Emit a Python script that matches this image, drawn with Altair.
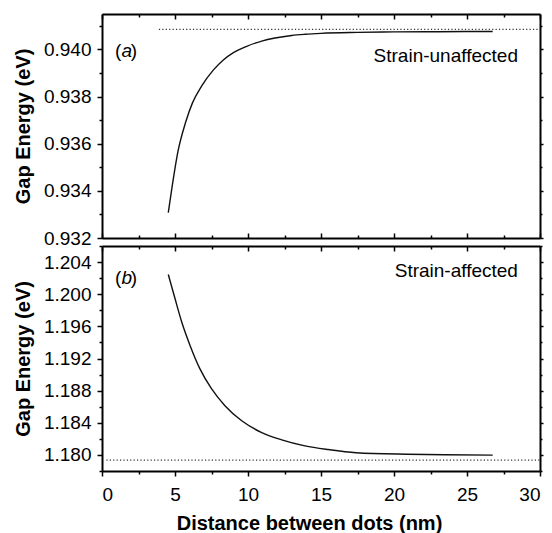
import altair as alt
import pandas as pd

# ---------------- data ----------------
dist_a = [4.54, 4.82, 5.18, 5.75, 6.19, 6.83, 7.62, 8.31, 9.0, 9.91, 10.94, 11.85, 12.99, 13.9,
          15.0, 17.5, 20.0, 23.0, 26.76]
gap_a = [0.93308, 0.93425, 0.93560, 0.93695, 0.93772, 0.93845, 0.93912, 0.93955, 0.93986, 0.94013,
         0.94035, 0.94048, 0.94059, 0.94064, 0.94068, 0.94072, 0.94074, 0.94075, 0.94076]

dist_b = [4.54, 5.0, 5.46, 6.03, 6.71, 7.51, 8.42, 9.57, 10.94, 12.31, 13.9, 15.5, 17.4, 20.9, 23.5, 26.76]
gap_b = [1.20246, 1.19946, 1.19654, 1.19363, 1.19071, 1.18821, 1.18613, 1.18425, 1.18279, 1.18188,
         1.18113, 1.18067, 1.18028, 1.18009, 1.18002, 1.17998]

ref_a_y = 0.94085
ref_a_x = [3.9, 30]
ref_b_y = 1.17935
ref_b_x = [0.3, 30]

x_domain = [0, 30]
x_major = [0, 5, 10, 15, 20, 25, 30]
x_minor = [2.5, 7.5, 12.5, 17.5, 22.5, 27.5]

ya_domain = [0.932, 0.9415]
ya_major = [0.932, 0.934, 0.936, 0.938, 0.940]
ya_minor = [0.933, 0.935, 0.937, 0.939, 0.941]

yb_domain = [1.178, 1.206]
yb_major = [1.180, 1.184, 1.188, 1.192, 1.196, 1.200, 1.204]
yb_minor = [1.178, 1.182, 1.186, 1.190, 1.194, 1.198, 1.202, 1.206]

notes = ["Strain-unaffected", "Strain-affected"]
note_x = 28.49
note_y = [0.9397, 1.20288]
tags = ["a", "b"]
tag_y = [0.93991, 1.2020]
paren_x = [0.89, 1.97]
tag_x = 1.34

W = 438
H_A = 224
H_B = 225
FONT = "Liberation Sans"


def panel(dist, gap, ref_x, ref_y, ydom, ymaj, ymin, tag, t_y, note, n_y, H, is_bottom):
    xs = alt.Scale(domain=x_domain, nice=False, zero=False)
    ys = alt.Scale(domain=ydom, nice=False, zero=False)

    curve_df = pd.DataFrame({"x": dist, "y": gap})
    ref_df = pd.DataFrame({"x": [ref_x[0]], "x2": [ref_x[1]], "y": [ref_y]})
    note_df = pd.DataFrame({"x": [note_x], "y": [n_y], "t": [note]})
    paren_df = pd.DataFrame({"x": paren_x, "y": [t_y, t_y], "t": ["(", ")"]})
    tag_df = pd.DataFrame({"x": [tag_x], "y": [t_y], "t": [tag]})

    if is_bottom:
        x_ax_major = alt.Axis(
            orient="bottom", values=x_major, tickSize=5, labels=True, format="d",
            title="Distance between dots (nm)", domain=True, labelPadding=9,
            titlePadding=9, titleX=207,
        )
        x_ax_minor = alt.Axis(orient="bottom", values=x_minor, tickSize=3, labels=False,
                              title=None, domain=False)
    else:
        x_ax_major = alt.Axis(orient="top", offset=-H, values=x_major, tickSize=5, labels=False,
                              title=None, domain=True)
        x_ax_minor = alt.Axis(orient="top", offset=-H, values=x_minor, tickSize=3, labels=False,
                              title=None, domain=False)
    top_major = alt.Axis(orient="bottom", offset=-H, values=x_major, tickSize=5, labels=False,
                         title=None, domain=True)
    top_minor = alt.Axis(orient="bottom", offset=-H, values=x_minor, tickSize=3, labels=False,
                         title=None, domain=False)

    y_left_major = alt.Axis(orient="left", values=ymaj, tickSize=5, labels=True, format=".3f",
                            title="Gap Energy (eV)", domain=True, labelPadding=6, titlePadding=10)
    y_left_minor = alt.Axis(orient="left", values=ymin, tickSize=3, labels=False, title=None,
                            domain=False)
    y_right_major = alt.Axis(orient="right", values=ymaj, tickSize=3, labels=False, title=None,
                             domain=True)
    y_right_minor = alt.Axis(orient="right", values=ymin, tickSize=2, labels=False, title=None,
                             domain=False)

    curve = alt.Chart(curve_df).mark_line(color="#111111", strokeWidth=1.4,
                                          interpolate="monotone").encode(
        x=alt.X("x:Q", scale=xs, axis=x_ax_major),
        y=alt.Y("y:Q", scale=ys, axis=y_left_major),
    )
    ref = alt.Chart(ref_df).mark_rule(color="#333333", strokeWidth=1.2,
                                      strokeDash=[1.2, 2.2]).encode(
        x=alt.X("x:Q", scale=xs, axis=x_ax_minor),
        x2="x2:Q",
        y=alt.Y("y:Q", scale=ys, axis=y_left_minor),
    )
    note_layer = alt.Chart(note_df).mark_text(font=FONT, fontSize=19, align="right",
                                              baseline="middle", color="black").encode(
        x=alt.X("x:Q", scale=xs, axis=top_major),
        y=alt.Y("y:Q", scale=ys, axis=y_right_major),
        text="t:N",
    )
    paren_layer = alt.Chart(paren_df).mark_text(font=FONT, fontSize=19, align="left",
                                                baseline="middle", color="black").encode(
        x=alt.X("x:Q", scale=xs, axis=top_minor),
        y=alt.Y("y:Q", scale=ys, axis=y_right_minor),
        text="t:N",
    )
    tag_layer = alt.Chart(tag_df).mark_text(font=FONT, fontSize=19, align="left",
                                            baseline="middle", fontStyle="italic",
                                            color="black").encode(
        x=alt.X("x:Q", scale=xs, axis=None),
        y=alt.Y("y:Q", scale=ys, axis=None),
        text="t:N",
    )
    return alt.layer(curve, ref, note_layer, paren_layer, tag_layer).resolve_axis(
        x="independent", y="independent"
    ).properties(width=W, height=H)


pa = panel(dist_a, gap_a, ref_a_x, ref_a_y, ya_domain, ya_major, ya_minor,
           tags[0], tag_y[0], notes[0], note_y[0], H_A, False)
pb = panel(dist_b, gap_b, ref_b_x, ref_b_y, yb_domain, yb_major, yb_minor,
           tags[1], tag_y[1], notes[1], note_y[1], H_B, True)

chart = alt.vconcat(pa, pb, spacing=8, bounds="flush").properties(
    padding={"left": 5, "top": 5, "right": 0, "bottom": 0}
).configure_view(stroke=None).configure_axis(
    grid=False,
    domainColor="black",
    domainWidth=2,
    tickColor="black",
    tickWidth=1.5,
    labelFont=FONT,
    labelFontSize=19,
    labelColor="black",
    titleFont=FONT,
    titleFontSize=20,
    titleFontWeight="bold",
    titleColor="black",
)

chart.save("out.html", embed_options={"renderer": "svg", "actions": False})
